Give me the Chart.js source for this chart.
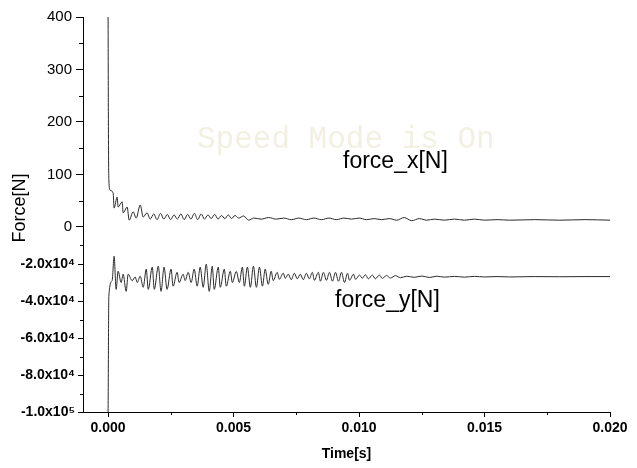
<!DOCTYPE html>
<html>
<head>
<meta charset="utf-8">
<script src="https://cdn.jsdelivr.net/npm/chart.js@4.4.1/dist/chart.umd.min.js"></script>
<style>
  html, body { margin: 0; padding: 0; background: #fff; }
  canvas { display: block; }
</style>
</head>
<body>
<canvas id="forceChart" width="637" height="468"></canvas>
<script>
// Data (time in s, force in N)
const forceXTime = [0, 0.00001, 0.00003, 0.00008, 0.0002, 0.00024, 0.00036, 0.0004, 0.00056, 0.0006, 0.00076, 0.00084,
    0.001, 0.00112, 0.00128, 0.0014, 0.00155, 0.00168, 0.00182, 0.00195, 0.00209, 0.00222, 0.00236, 0.00249,
    0.00263, 0.00276, 0.0029, 0.00303, 0.00317, 0.0033, 0.00344, 0.00357, 0.00371, 0.00384, 0.00398, 0.00411,
    0.00425, 0.00438, 0.00452, 0.00465, 0.00479, 0.00492, 0.00506, 0.0052, 0.0054, 0.0056, 0.0058, 0.0061,
    0.0064, 0.0067, 0.007, 0.0073, 0.0076, 0.0079, 0.0082, 0.0085, 0.0088, 0.0091, 0.0094, 0.0097, 0.01,
    0.0103, 0.0106, 0.0109, 0.0112, 0.0115, 0.0118, 0.0121, 0.0124, 0.0127, 0.013, 0.0134, 0.0138, 0.0142,
    0.0146, 0.015, 0.0155, 0.016, 0.017, 0.018, 0.019, 0.02];
const forceXValue = [400, 220, 90, 70, 65, 36, 57, 38, 48, 27, 38, 13,
    29, 17, 42, 19, 27, 15, 25, 14, 26, 15, 24, 14,
    23, 15, 25, 14, 24, 15, 26, 14, 25, 15, 23, 16,
    24, 15, 22, 16, 23, 16, 22, 17, 21, 13, 17, 15,
    18, 15, 17, 14, 17, 14, 17, 14, 17, 14, 17, 15, 17,
    14, 16, 14, 16, 13, 18, 12, 16, 13, 15, 13, 15, 13,
    15, 13, 14, 13, 14, 13, 14, 13];

const forceYTime = [0, 0.00003, 0.00016, 0.00024, 0.00032, 0.0004, 0.00052, 0.0006, 0.00072, 0.0008, 0.00096,
    0.00108, 0.00116, 0.00128, 0.0014, 0.00152, 0.0016, 0.00176, 0.00184, 0.002, 0.00211, 0.00223, 0.00235,
    0.00251, 0.00259, 0.00275, 0.00283, 0.00299, 0.00307, 0.00319, 0.00331, 0.00343, 0.00355, 0.00367,
    0.00379, 0.00391, 0.00403, 0.00415, 0.00423, 0.00439, 0.00447, 0.00463, 0.00471, 0.00487, 0.00495,
    0.00511, 0.00523, 0.00535, 0.00543, 0.00555, 0.00567, 0.00579, 0.00591, 0.00603, 0.00615, 0.00626,
    0.00638, 0.0065, 0.00658, 0.00674, 0.00682, 0.00698, 0.00706, 0.00718, 0.0073, 0.00742, 0.00754,
    0.00766, 0.00778, 0.0079, 0.00802, 0.00814, 0.00822, 0.00838, 0.00846, 0.00858, 0.0087, 0.00882,
    0.00894, 0.00906, 0.00918, 0.0093, 0.00942, 0.00954, 0.00962, 0.00978, 0.00986, 0.01002, 0.01013,
    0.01025, 0.01037, 0.01053, 0.01065, 0.01081, 0.01093, 0.01109, 0.01125, 0.01145, 0.01165, 0.0119,
    0.0122, 0.0125, 0.0128, 0.0131, 0.0134, 0.0138, 0.0142, 0.0146, 0.015, 0.0155, 0.016, 0.017, 0.018,
    0.019, 0.02];
const forceYValue = [-100000, -37500, -29000, -15800, -33700, -23900, -30000, -25500, -34800, -25500, -29000,
    -27000, -30000, -26600, -32600, -22800, -33700, -21700, -33700, -21200, -34800, -21700, -33700,
    -22800, -32000, -24500, -30000, -25500, -29000, -24500, -30000, -22800, -32000, -21700,
    -32600, -20100, -34800, -21200, -33700, -21700, -32600, -22800, -32000, -23900, -30000,
    -24000, -30000, -21700, -32000, -21700, -32600, -21200, -32600, -21700, -32000, -22800,
    -31000, -23900, -29000, -24500, -28300, -25000, -27700, -25500, -28500, -25000, -28000,
    -25500, -28500, -25000, -28000, -24500, -28800, -24500, -29300, -24500, -28800, -24500,
    -29300, -24500, -29300, -24500, -30000, -25000, -28800, -25500, -28300, -26000, -27700,
    -25800, -28000, -26000, -28000, -26000, -27800, -26200, -27600, -26300, -27400, -26600,
    -27200, -26500, -27300, -26600, -27100, -26700, -27100, -26700, -27000, -26800, -27000, -26800, -26900,
    -26800, -26800];

// Axis ticks
const xTicks = [0, 0.005, 0.01, 0.015, 0.02];
const xMinor = [0.0025, 0.0075, 0.0125, 0.0175];
const yTopTicks = [0, 100, 200, 300, 400];
const yTopMinor = [50, 150, 250, 350];
const yBotTicks = [-100000, -80000, -60000, -40000, -20000, 0];
const yBotTickLabels = ['-1.0x10\u2075', '-8.0x10\u2074', '-6.0x10\u2074', '-4.0x10\u2074', '-2.0x10\u2074', ''];
const yBotMinor = [-90000, -70000, -50000, -30000, -10000];

const WATERMARK = 'Speed Mode is On';

Chart.defaults.font.family = '"Liberation Sans", Arial, sans-serif';
Chart.defaults.color = '#000';

const toPoints = (xs, ys) => xs.map((t, i) => ({ x: t, y: ys[i] }));

// minor ticks, watermark and in-plot labels
const overlayPlugin = {
    id: 'overlay',
    beforeDatasetsDraw(chart) {
        const ctx = chart.ctx;
        ctx.save();
        ctx.font = '31px "Liberation Mono", "Courier New", monospace';
        ctx.fillStyle = 'rgb(242, 240, 226)';
        ctx.fillText(WATERMARK, 197, 148);
        ctx.restore();
    },
    afterDraw(chart) {
        const ctx = chart.ctx;
        const { x, yTop, yBot } = chart.scales;
        ctx.save();
        ctx.strokeStyle = '#000';
        ctx.lineWidth = 1;
        ctx.beginPath();
        yTopMinor.forEach(v => {
            const py = Math.round(yTop.getPixelForValue(v)) + 0.5;
            ctx.moveTo(yTop.right - 4, py);
            ctx.lineTo(yTop.right, py);
        });
        yBotMinor.forEach(v => {
            const py = Math.round(yBot.getPixelForValue(v)) + 0.5;
            ctx.moveTo(yBot.right - 3, py);
            ctx.lineTo(yBot.right, py);
        });
        xMinor.forEach(v => {
            const px = Math.round(x.getPixelForValue(v)) + 0.5;
            ctx.moveTo(px, x.top);
            ctx.lineTo(px, x.top + 3);
        });
        ctx.stroke();

        ctx.fillStyle = '#000';
        ctx.font = '23px "Liberation Sans", Arial, sans-serif';
        ctx.fillText('force_x[N]', 343, 168);
        ctx.fillText('force_y[N]', 335, 307);

        ctx.translate(25, 208);
        ctx.rotate(-Math.PI / 2);
        ctx.textAlign = 'center';
        ctx.font = '18px "Liberation Sans", Arial, sans-serif';
        ctx.fillText('Force[N]', 0, 0);
        ctx.restore();
    }
};

const lineStyle = { borderColor: '#2a2a2a', borderWidth: 1, pointRadius: 0, cubicInterpolationMode: 'monotone' };

new Chart(document.getElementById('forceChart'), {
    type: 'line',
    data: {
        datasets: [
            { label: 'force_x[N]', data: toPoints(forceXTime, forceXValue), yAxisID: 'yTop', ...lineStyle },
            { label: 'force_y[N]', data: toPoints(forceYTime, forceYValue), yAxisID: 'yBot', ...lineStyle }
        ]
    },
    options: {
        responsive: false,
        animation: false,
        layout: { padding: { top: 17, right: 27, left: 0, bottom: 0 } },
        plugins: { legend: { display: false }, tooltip: { enabled: false } },
        scales: {
            x: {
                type: 'linear',
                min: -0.001,
                max: 0.02,
                bounds: 'data',
                afterBuildTicks: s => { s.ticks = xTicks.map(v => ({ value: v })); },
                afterFit: s => { s.height = 56; },
                grid: { drawOnChartArea: false, tickLength: 5, tickColor: '#000' },
                border: { color: '#000' },
                ticks: {
                    padding: 3, autoSkip: false, maxRotation: 0,
                    font: { size: 14, weight: 'bold' },
                    callback: v => v.toFixed(3)
                },
                title: {
                    display: true, text: 'Time[s]',
                    font: { size: 14, weight: 'bold' },
                    padding: { top: 4, bottom: 5 }
                }
            },
            yBot: {
                type: 'linear',
                position: 'left',
                stack: 'force',
                stackWeight: 185,
                min: -100000,
                max: 0,
                bounds: 'data',
                afterBuildTicks: s => { s.ticks = yBotTicks.map(v => ({ value: v })); },
                afterFit: s => { s.width = 83; },
                grid: { drawOnChartArea: false, tickLength: 5, tickColor: '#000' },
                border: { color: '#000' },
                ticks: {
                    padding: 3, autoSkip: false,
                    font: { size: 14, weight: 'bold' },
                    callback: (v, i) => yBotTickLabels[i]
                }
            },
            yTop: {
                type: 'linear',
                position: 'left',
                stack: 'force',
                stackWeight: 210,
                min: 0,
                max: 400,
                bounds: 'data',
                afterBuildTicks: s => { s.ticks = yTopTicks.map(v => ({ value: v })); },
                afterFit: s => { s.width = 83; },
                grid: { drawOnChartArea: false, tickLength: 7, tickColor: '#000' },
                border: { color: '#000' },
                ticks: { padding: 4, autoSkip: false, font: { size: 15 } }
            }
        }
    },
    plugins: [overlayPlugin]
});
</script>
</body>
</html>
